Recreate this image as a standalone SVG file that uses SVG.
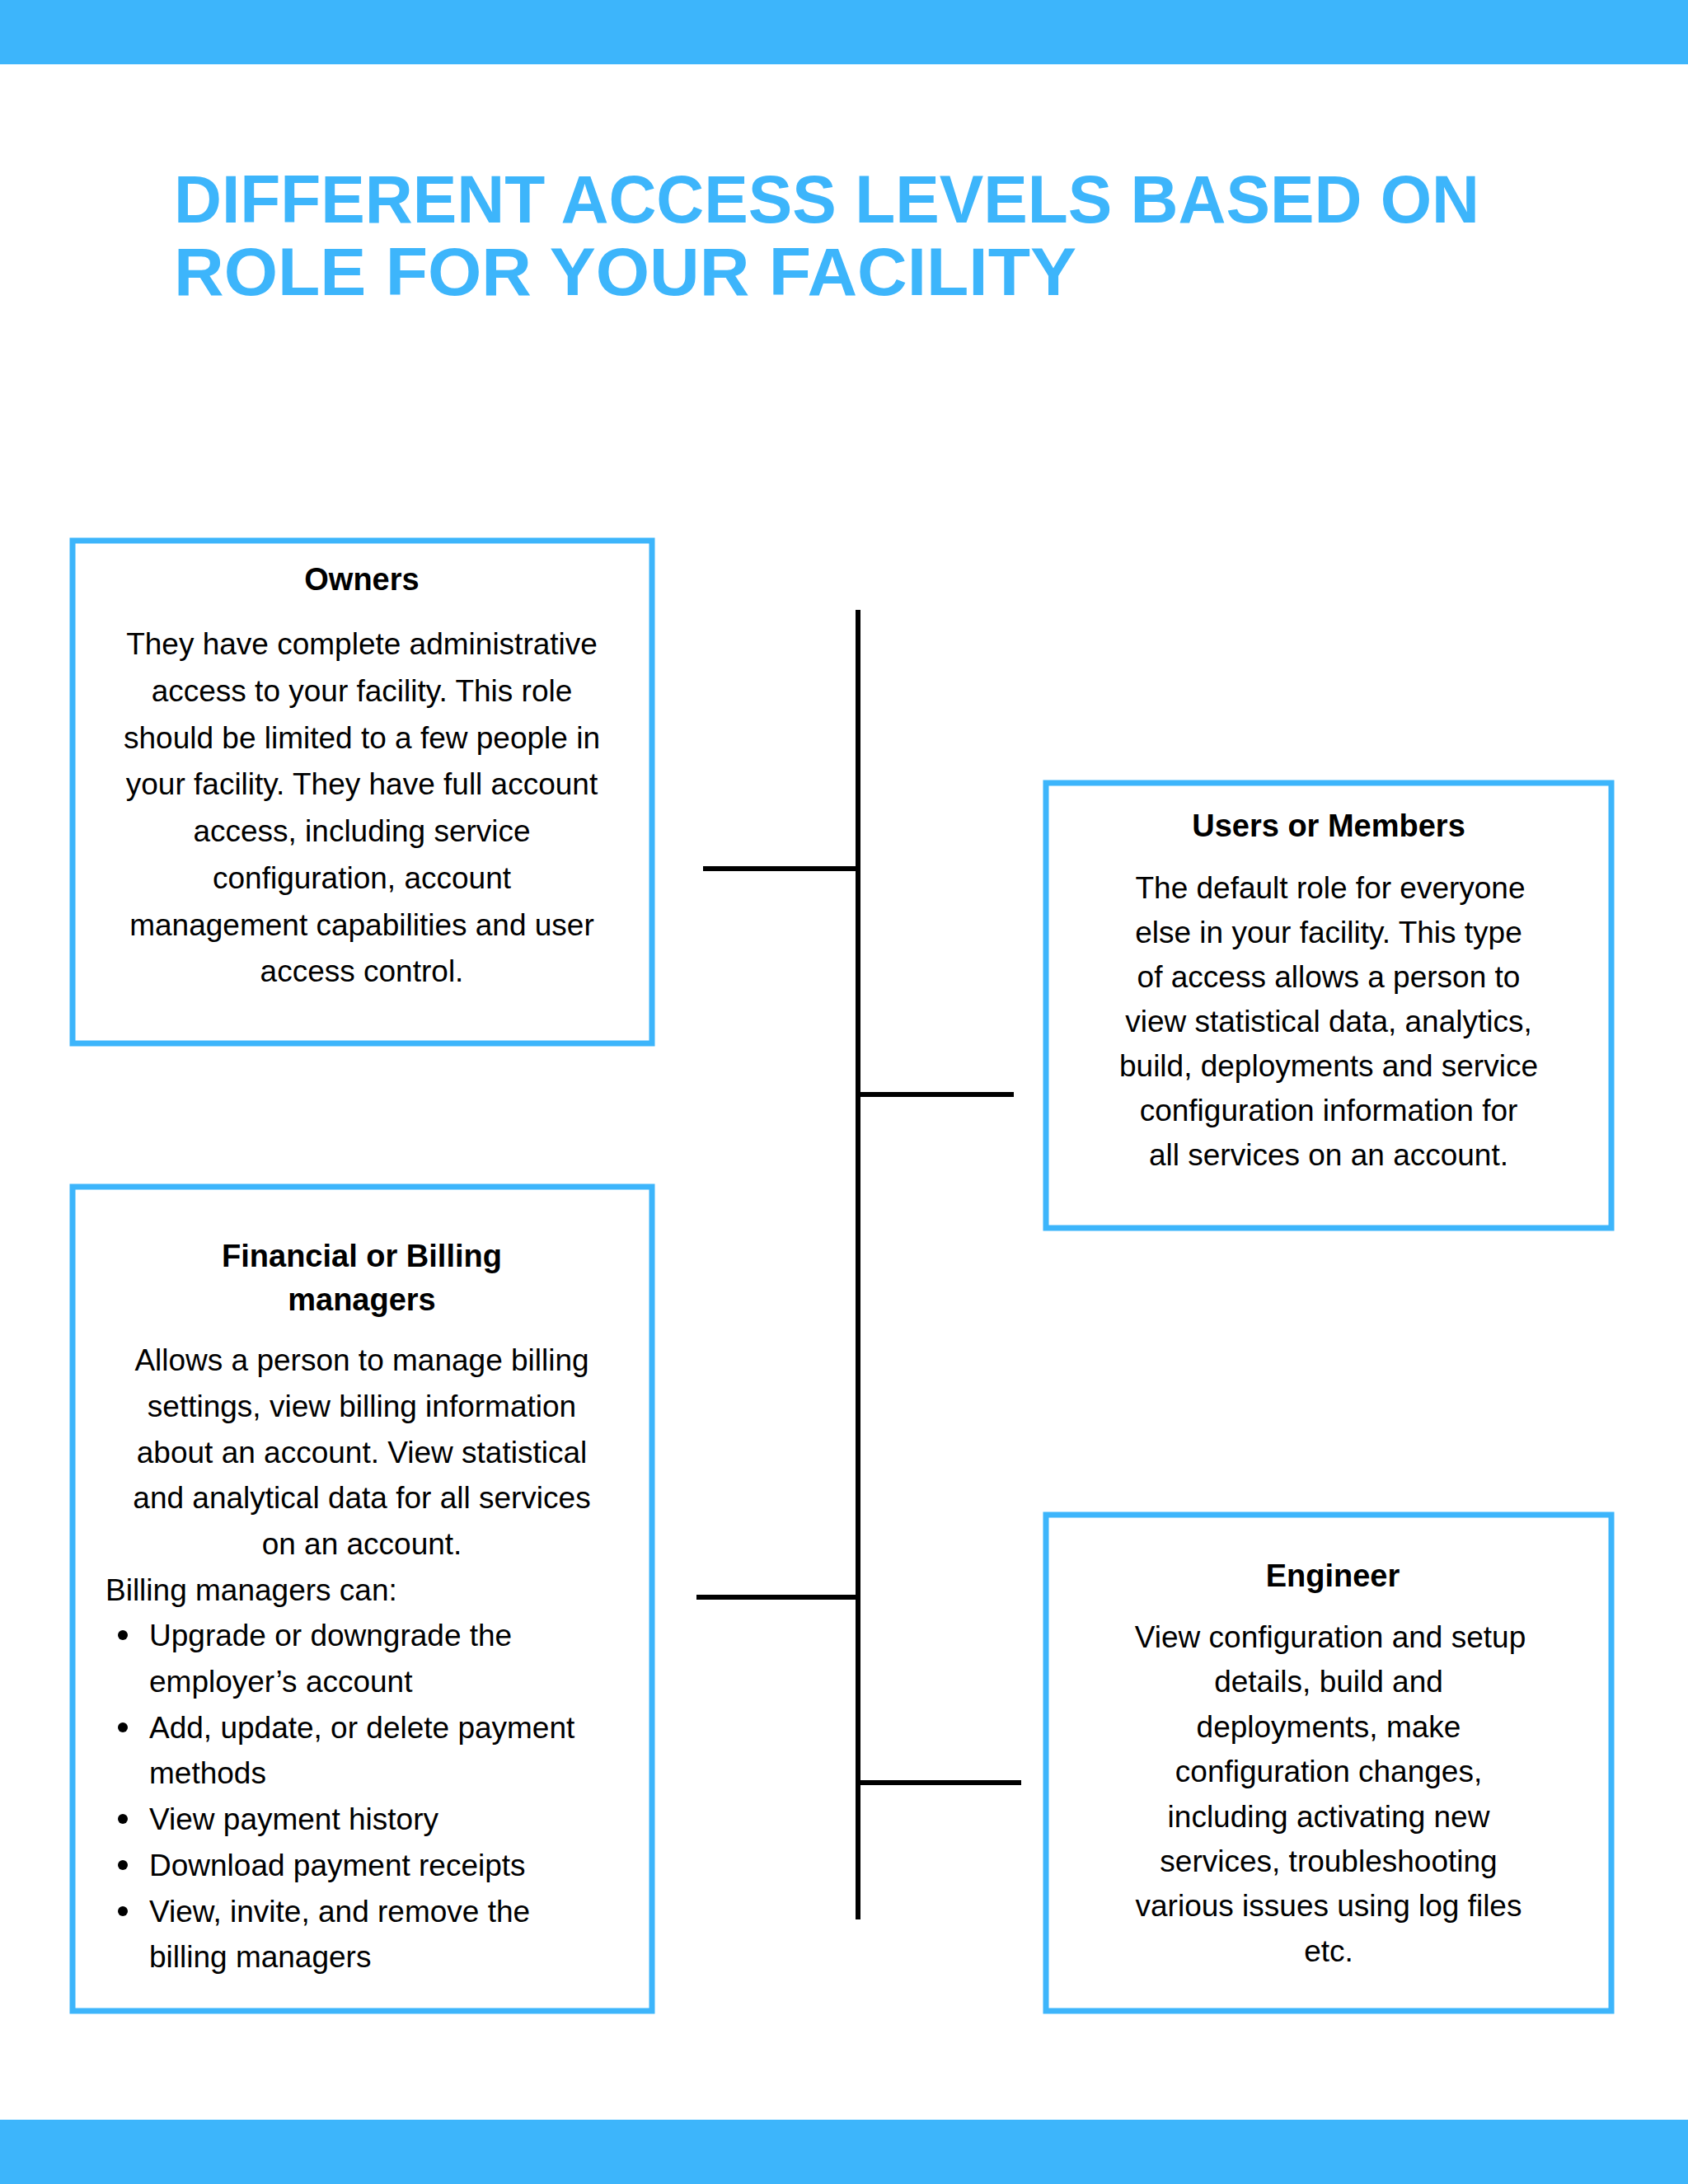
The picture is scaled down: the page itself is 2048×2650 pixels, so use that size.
<svg xmlns="http://www.w3.org/2000/svg" width="2048" height="2650" viewBox="0 0 2048 2650">
<style>
.box{fill:#fff;stroke:#3db5fb;stroke-width:7}
.h{font-family:"Liberation Sans",Arial,sans-serif;font-weight:bold;font-size:38px;fill:#000;text-anchor:middle}
.t{font-family:"Liberation Sans",Arial,sans-serif;font-size:37px;fill:#000;text-anchor:middle}
.l{font-family:"Liberation Sans",Arial,sans-serif;font-size:37px;fill:#000}
.ttl{font-family:"Liberation Sans",Arial,sans-serif;font-weight:bold;font-size:82px;fill:#3db5fb}
.c{stroke:#000;stroke-width:6;fill:none}
</style>
<rect width="2048" height="2650" fill="#fff"/>
<rect x="0" y="0" width="2048" height="78" fill="#3db5fb"/>
<rect x="0" y="2572" width="2048" height="78" fill="#3db5fb"/>
<text class="ttl" x="211" y="270" textLength="1584" lengthAdjust="spacingAndGlyphs">DIFFERENT ACCESS LEVELS BASED ON</text>
<text class="ttl" x="211" y="358" textLength="1095" lengthAdjust="spacingAndGlyphs">ROLE FOR YOUR FACILITY</text>
<g id="connectors">
<line class="c" x1="1041" y1="740" x2="1041" y2="2329"/>
<line class="c" x1="853" y1="1054" x2="1044" y2="1054"/>
<line class="c" x1="1038" y1="1328" x2="1230" y2="1328"/>
<line class="c" x1="845" y1="1938" x2="1044" y2="1938"/>
<line class="c" x1="1038" y1="2163" x2="1239" y2="2163"/>
</g>
<g id="owners">
<rect class="box" x="88" y="656" width="703" height="610"/>
<text class="h" x="439" y="716">Owners</text>
<text class="t" x="439" y="794">They have complete administrative</text>
<text class="t" x="439" y="851">access to your facility. This role</text>
<text class="t" x="439" y="908">should be limited to a few people in</text>
<text class="t" x="439" y="964">your facility. They have full account</text>
<text class="t" x="439" y="1021">access, including service</text>
<text class="t" x="439" y="1078">configuration, account</text>
<text class="t" x="439" y="1135">management capabilities and user</text>
<text class="t" x="439" y="1191">access control.</text>
</g>
<g id="users">
<rect class="box" x="1269" y="950" width="686" height="540"/>
<text class="h" x="1612" y="1015">Users or Members</text>
<text class="t" x="1614" y="1090">The default role for everyone</text>
<text class="t" x="1612" y="1144">else in your facility. This type</text>
<text class="t" x="1612" y="1198">of access allows a person to</text>
<text class="t" x="1612" y="1252">view statistical data, analytics,</text>
<text class="t" x="1612" y="1306">build, deployments and service</text>
<text class="t" x="1612" y="1360">configuration information for</text>
<text class="t" x="1612" y="1414">all services on an account.</text>
</g>
<g id="financial">
<rect class="box" x="88" y="1440" width="703" height="1000"/>
<text class="h" x="439" y="1537">Financial or Billing</text>
<text class="h" x="439" y="1590">managers</text>
<text class="t" x="439" y="1663">Allows a person to manage billing</text>
<text class="t" x="439" y="1719">settings, view billing information</text>
<text class="t" x="439" y="1775">about an account. View statistical</text>
<text class="t" x="439" y="1830">and analytical data for all services</text>
<text class="t" x="439" y="1886">on an account.</text>
<text class="l" x="128" y="1942">Billing managers can:</text>
<g fill="#000"><circle cx="149" cy="1984" r="6"/><circle cx="149" cy="2096" r="6"/><circle cx="149" cy="2207" r="6"/><circle cx="149" cy="2263" r="6"/><circle cx="149" cy="2319" r="6"/></g>
<text class="l" x="181" y="1997">Upgrade or downgrade the</text>
<text class="l" x="181" y="2053">employer’s account</text>
<text class="l" x="181" y="2109">Add, update, or delete payment</text>
<text class="l" x="181" y="2164">methods</text>
<text class="l" x="181" y="2220">View payment history</text>
<text class="l" x="181" y="2276">Download payment receipts</text>
<text class="l" x="181" y="2332">View, invite, and remove the</text>
<text class="l" x="181" y="2387">billing managers</text>
</g>
<g id="engineer">
<rect class="box" x="1269" y="1838" width="686" height="602"/>
<text class="h" x="1617" y="1925">Engineer</text>
<text class="t" x="1614" y="1999">View configuration and setup</text>
<text class="t" x="1612" y="2053">details, build and</text>
<text class="t" x="1612" y="2108">deployments, make</text>
<text class="t" x="1612" y="2162">configuration changes,</text>
<text class="t" x="1612" y="2217">including activating new</text>
<text class="t" x="1612" y="2271">services, troubleshooting</text>
<text class="t" x="1612" y="2325">various issues using log files</text>
<text class="t" x="1612" y="2380">etc.</text>
</g>
</svg>
